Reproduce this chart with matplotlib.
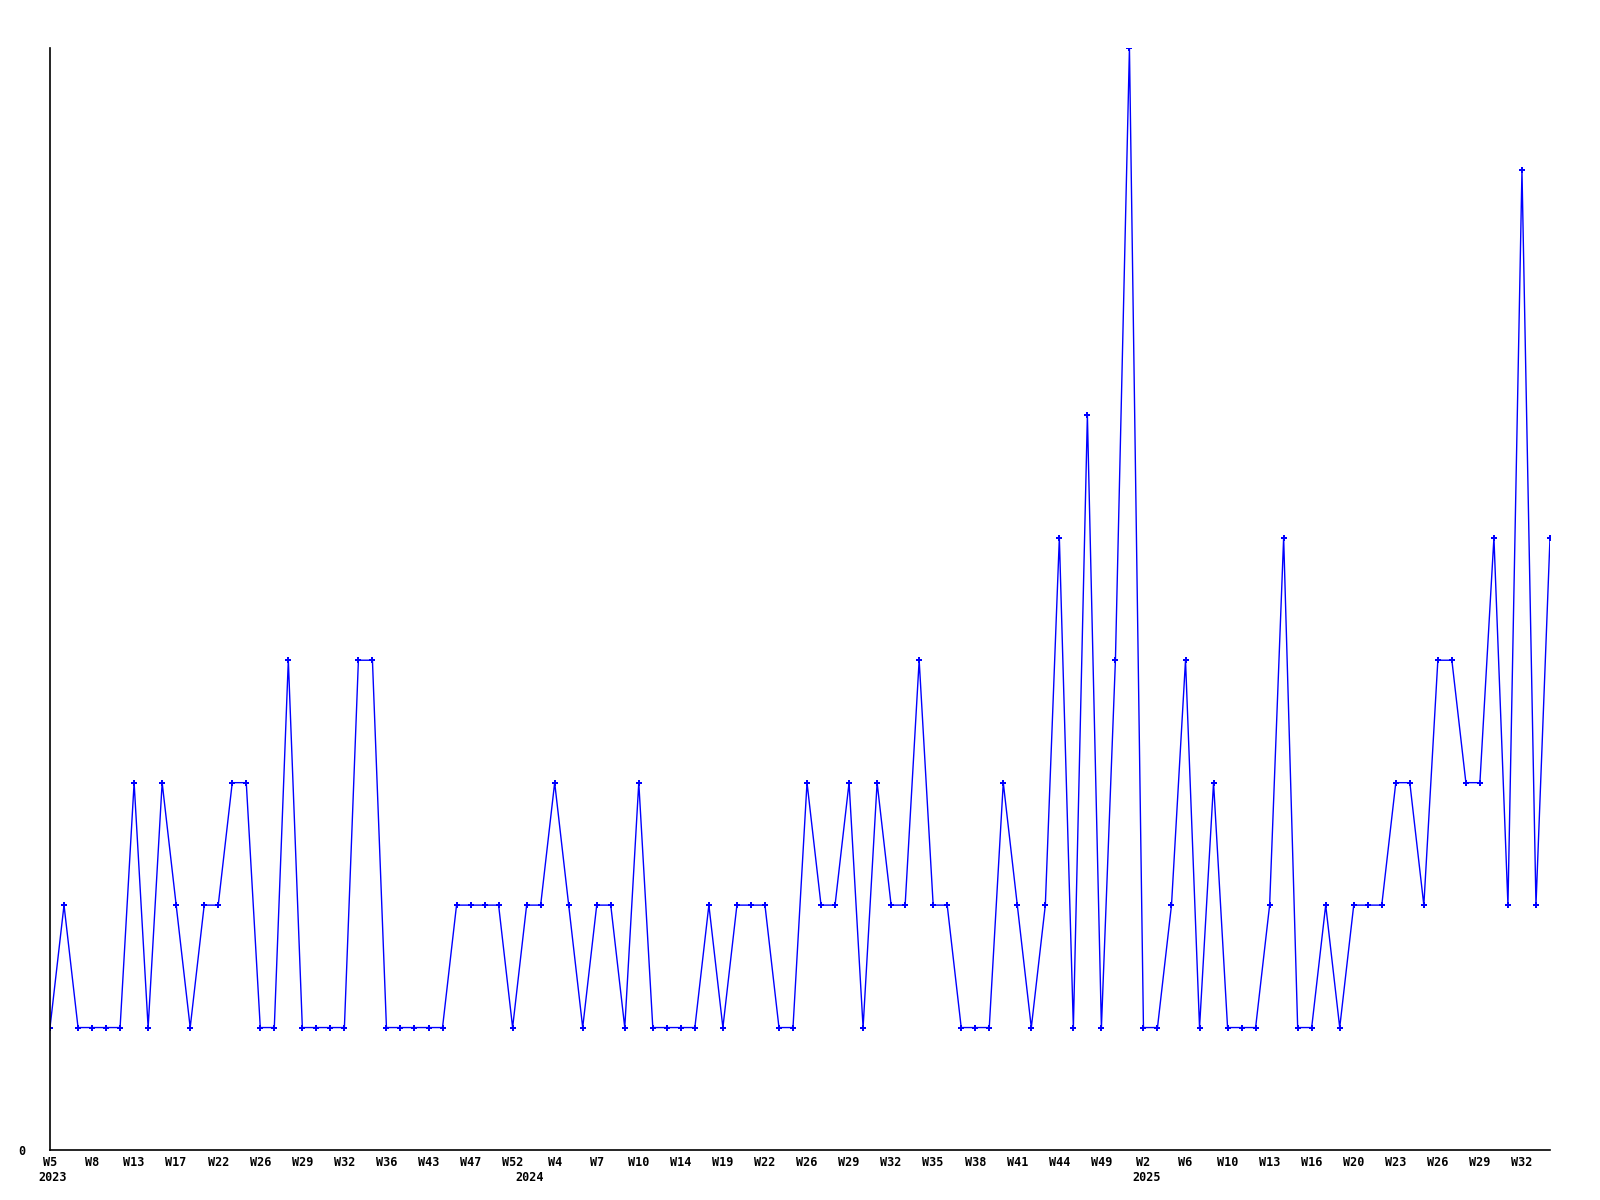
import matplotlib
matplotlib.use("Agg")
import matplotlib.pyplot as plt

# weekly counts, one per point (108 points)
values = [
    1, 2, 1, 1, 1, 1, 3, 1, 3, 2, 1, 2, 2, 3, 3, 1, 1, 4, 1, 1,
    1, 1, 4, 4, 1, 1, 1, 1, 1, 2, 2, 2, 2, 1, 2, 2, 3, 2, 1, 2,
    2, 1, 3, 1, 1, 1, 1, 2, 1, 2, 2, 2, 1, 1, 3, 2, 2, 3, 1, 3,
    2, 2, 4, 2, 2, 1, 1, 1, 3, 2, 1, 2, 5, 1, 6, 1, 4, 9, 1, 1,
    2, 4, 1, 3, 1, 1, 1, 2, 5, 1, 1, 2, 1, 2, 2, 2, 3, 3, 2, 4,
    4, 3, 3, 5, 2, 8, 2, 5,
]

# labels shown every third point
week_labels = [
    "W5", "W8", "W13", "W17", "W22", "W26", "W29", "W32", "W36", "W43",
    "W47", "W52", "W4", "W7", "W10", "W14", "W19", "W22", "W26", "W29",
    "W32", "W35", "W38", "W41", "W44", "W49", "W2", "W6", "W10", "W13",
    "W16", "W20", "W23", "W26", "W29", "W32",
]
label_step = 3

# year labels and the point index where each year starts
years = ["2023", "2024", "2025"]
year_start = [0, 34, 78]

fig = plt.figure(figsize=(16, 12), dpi=100)
ax = fig.add_axes([50 / 1600, 50 / 1200, 1500 / 1600, 1102 / 1200])

x = list(range(len(values)))
ax.plot(x, values, color="#0000ff", linewidth=1.0, marker="P", markersize=4,
        markeredgewidth=0)

ax.set_xlim(0, len(values) - 1)
ax.set_ylim(0, max(values))

for s in ["top", "right"]:
    ax.spines[s].set_visible(False)
for s in ["left", "bottom"]:
    ax.spines[s].set_color("black")
    ax.spines[s].set_linewidth(1.2)

mono = {"family": "DejaVu Sans Mono", "weight": "bold", "size": 8.5}

ax.set_yticks([0])
ax.set_yticklabels(["0"], fontdict=mono)
ax.tick_params(axis="y", length=0, pad=18)

ticks = list(range(0, len(values), label_step))[:len(week_labels)]
ax.set_xticks(ticks)
ax.set_xticklabels(week_labels, fontdict=mono)
ax.tick_params(axis="x", length=0, pad=4)

for yr, i in zip(years, year_start):
    ax.annotate(yr, xy=(i, 0), xycoords="data", xytext=(2, -15),
                textcoords="offset points", ha="center", va="top", **mono)

fig.savefig("out.png", dpi=100)
